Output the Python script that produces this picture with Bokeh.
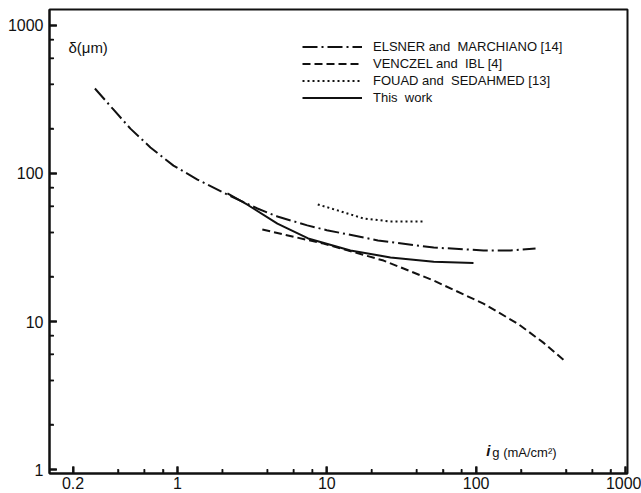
import math
from bokeh.plotting import figure
from bokeh.models import (Range1d, FixedTicker, CustomJSTickFormatter, Legend,
                          LegendItem, Label)
from bokeh.embed import file_html
from bokeh.resources import INLINE

# ---- data ----
elsner_x = [0.28, 0.367, 0.484, 0.659, 0.94, 1.36, 2.16, 3.43, 4.67, 7.4, 10, 22, 52, 112, 170, 250]
elsner_y = [375, 275, 201, 150, 113, 91, 72, 58, 51.2, 44.6, 41.4, 35.3, 31.6, 30.2, 30.2, 31.1]

venczel_x = [3.7, 9.5, 24, 52, 112, 189, 282, 385]
venczel_y = [41.8, 33.6, 25.8, 18.9, 13.2, 9.7, 7.2, 5.5]

fouad_x = [8.7, 11.8, 17.6, 26.7, 44]
fouad_y = [61.8, 56.3, 49.7, 47.4, 47.4]

work_x = [2.16, 2.94, 4.67, 7.5, 14.4, 26.7, 52, 96]
work_y = [73.3, 61.5, 45.9, 36.4, 30.2, 27.1, 25.3, 24.8]

series_labels = ["ELSNER and  MARCHIANO [14]", "VENCZEL and  IBL [4]",
                 "FOUAD and  SEDAHMED [13]", "This  work"]

x_major = [0.2, 1, 10, 100, 1000]
x_minor = [0.4, 0.6, 0.8, 2, 4, 6, 8, 20, 40, 60, 80, 200, 400, 600, 800]
y_major = [1, 10, 100, 1000]
y_minor = [2, 4, 6, 8, 20, 40, 60, 80, 200, 400, 600, 800]

x_lo, x_hi = 0.139, 1032
y_lo, y_hi = 0.94, 1282

FONT = "Liberation Sans"
INK = "#111111"

p = figure(width=641, height=493, x_axis_type="log", y_axis_type="log",
           x_range=Range1d(x_lo, x_hi), y_range=Range1d(y_lo, y_hi),
           output_backend="svg", toolbar_location=None,
           min_border_left=49, min_border_right=14, min_border_top=9,
           min_border_bottom=20)
p.title = None
p.grid.visible = False
p.outline_line_color = INK
p.outline_line_width = 2
p.outline_line_alpha = 1
p.background_fill_color = "white"
p.border_fill_color = "white"

p.xaxis.ticker = FixedTicker(ticks=x_major, minor_ticks=x_minor)
p.yaxis.ticker = FixedTicker(ticks=y_major, minor_ticks=y_minor)
p.xaxis.formatter = CustomJSTickFormatter(
    code="return tick < 1 ? tick.toFixed(1) : tick.toFixed(0);")
p.yaxis.formatter = CustomJSTickFormatter(code="return tick.toFixed(0);")
for ax in (p.xaxis, p.yaxis):
    ax.axis_line_color = INK
    ax.axis_line_width = 2
    ax.major_tick_in = 7
    ax.major_tick_out = 0
    ax.minor_tick_in = 4
    ax.minor_tick_out = 0
    ax.major_tick_line_color = INK
    ax.minor_tick_line_color = INK
    ax.major_tick_line_width = 2
    ax.minor_tick_line_width = 1.5
    ax.major_label_text_font = FONT
    ax.major_label_text_font_size = "16px"
    ax.major_label_text_color = INK
p.xaxis.major_label_standoff = 3
p.yaxis.major_label_standoff = 6

# inward tick marks drawn as clipped dash markers on the frame edges
p.scatter(x_major, [y_lo] * len(x_major), marker="dash", size=14,
          angle=math.pi / 2, line_color=INK, line_width=2)
p.scatter(x_minor, [y_lo] * len(x_minor), marker="dash", size=9,
          angle=math.pi / 2, line_color=INK, line_width=1.5)
p.scatter([x_lo] * len(y_major), y_major, marker="dash", size=15,
          line_color=INK, line_width=2)
p.scatter([x_lo] * len(y_minor), y_minor, marker="dash", size=9,
          line_color=INK, line_width=1.5)

r1 = p.line(elsner_x, elsner_y, line_color=INK, line_width=2, line_dash="15 4 2 4")
r2 = p.line(venczel_x, venczel_y, line_color=INK, line_width=2, line_dash="8 4")
r3 = p.line(fouad_x, fouad_y, line_color=INK, line_width=2, line_dash="2 3")
r4 = p.line(work_x, work_y, line_color=INK, line_width=2)

legend = Legend(items=[LegendItem(label=series_labels[i], renderers=[r])
                       for i, r in enumerate([r1, r2, r3, r4])],
                location=(253, 367), glyph_width=60, glyph_height=17,
                label_height=17, label_standoff=11, spacing=0, padding=0,
                margin=0, border_line_color=None, background_fill_alpha=0,
                label_text_font=FONT, label_text_font_size="13px",
                label_text_color=INK)
p.add_layout(legend)

p.add_layout(Label(x=0.186, y=710, text="δ(μm)", text_font=FONT,
                   text_font_size="15px", text_baseline="middle",
                   text_align="left", text_color=INK))
p.add_layout(Label(x=117, y=1.34, text="i", text_font=FONT,
                   text_font_size="15px", text_font_style="bold italic",
                   text_baseline="middle", text_align="left", text_color=INK))
p.add_layout(Label(x=117, y=1.34, x_offset=6, y_offset=-2, text="g (mA/cm²)",
                   text_font=FONT, text_font_size="13px",
                   text_baseline="middle", text_align="left", text_color=INK))

open("out.html", "w").write(file_html(p, INLINE))
